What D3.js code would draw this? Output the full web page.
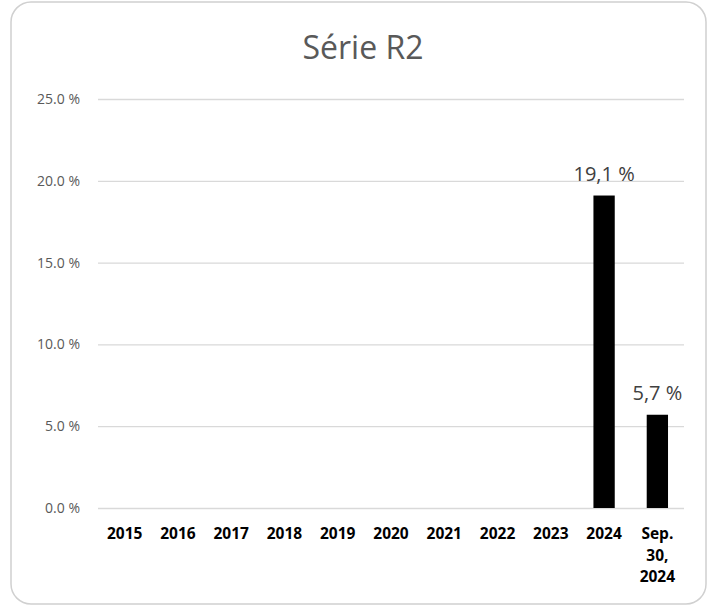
<!DOCTYPE html>
<html lang="fr">
<head>
<meta charset="UTF-8">
<script src="https://cdnjs.cloudflare.com/ajax/libs/d3/7.8.5/d3.min.js"></script>
<style>
  body { margin: 0; background: #fff; }
  svg { display: block; font-family: "Open Sans", "Noto Sans", sans-serif; }
</style>
</head>
<body>
<div id="chart"></div>
<script>
// ---- data ----
const categories = ["2015", "2016", "2017", "2018", "2019", "2020", "2021", "2022", "2023", "2024", "Sep. 30, 2024"];
const values = [null, null, null, null, null, null, null, null, null, 19.1, 5.7];
const yTicks = [0, 5, 10, 15, 20, 25];
const chartTitle = "Série R2";

// ---- layout ----
const W = 717, H = 611;
const plot = { left: 98, right: 684, top: 99, bottom: 508 };

const svg = d3.select("#chart").append("svg")
    .attr("width", W)
    .attr("height", H);

// rounded frame
svg.append("rect")
    .attr("x", 11).attr("y", 2)
    .attr("width", 695).attr("height", 602)
    .attr("rx", 20)
    .attr("fill", "#fff")
    .attr("stroke", "#d0d0d0")
    .attr("stroke-width", 1.5);

svg.append("text")
    .attr("x", 363).attr("y", 59)
    .attr("text-anchor", "middle")
    .attr("font-size", 32)
    .attr("fill", "#595959")
    .text(chartTitle);

// scales
const x = d3.scaleBand()
    .domain(categories)
    .range([plot.left, plot.right])
    .paddingInner(0.6)
    .paddingOuter(0.3);

const y = d3.scaleLinear()
    .domain([0, 25])
    .range([plot.bottom, plot.top]);

// gridlines + y labels
const yAxis = svg.append("g")
    .attr("transform", `translate(${plot.left},0)`)
    .call(d3.axisLeft(y)
        .tickValues(yTicks)
        .tickSize(-(plot.right - plot.left))
        .tickPadding(18)
        .tickFormat(d => d3.format(".1f")(d) + " %"));
yAxis.select(".domain").remove();
yAxis.selectAll(".tick line").attr("stroke", "#d9d9d9").attr("stroke-width", 1.3);
yAxis.selectAll(".tick text")
    .attr("fill", "#595959")
    .attr("font-size", 14)
    .attr("font-family", "'Open Sans', sans-serif");

// bars
const data = categories.map((c, i) => ({ cat: c, v: values[i] })).filter(d => d.v != null);

svg.selectAll("rect.bar")
    .data(data)
    .enter().append("rect")
    .attr("class", "bar")
    .attr("x", d => x(d.cat))
    .attr("width", x.bandwidth())
    .attr("y", d => y(d.v))
    .attr("height", d => y(0) - y(d.v))
    .attr("fill", "#000");

// value labels
svg.selectAll("text.val")
    .data(data)
    .enter().append("text")
    .attr("class", "val")
    .attr("x", d => x(d.cat) + x.bandwidth() / 2)
    .attr("y", d => y(d.v) - 15)
    .attr("text-anchor", "middle")
    .attr("font-size", 20)
    .attr("fill", "#404040")
    .text(d => d3.format(".1f")(d.v).replace(".", ",") + " %");

// x labels (wrapped)
const xLabels = svg.selectAll("text.xl")
    .data(categories)
    .enter().append("text")
    .attr("class", "xl")
    .attr("x", d => x(d) + x.bandwidth() / 2)
    .attr("y", 539)
    .attr("text-anchor", "middle")
    .attr("font-size", 15.5)
    .attr("font-weight", "bold")
    .attr("fill", "#000");

xLabels.each(function(d) {
    const words = d.split(" ");
    const t = d3.select(this);
    words.forEach((w, i) => {
        t.append("tspan")
            .attr("x", x(d) + x.bandwidth() / 2)
            .attr("dy", i === 0 ? 0 : 21.5)
            .text(w);
    });
});
</script>
</body>
</html>
